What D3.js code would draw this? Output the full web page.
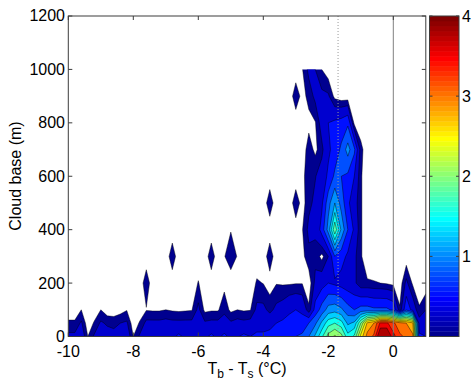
<!DOCTYPE html>
<html><head><meta charset="utf-8">
<script src="https://cdn.jsdelivr.net/npm/d3@7"></script>
<style>body{margin:0;background:#fff} text{font-family:"Liberation Sans",Arial,sans-serif;fill:#000}</style>
</head><body><svg id="c" width="471" height="381"></svg>
<script>
// ---- data ----
const xGrid = [-10,-9.8,-9.6,-9.4,-9.2,-9,-8.8,-8.6,-8.4,-8.2,-8,-7.8,-7.6,-7.4,-7.2,-7,-6.8,-6.6,-6.4,-6.2,
  -6,-5.8,-5.6,-5.4,-5.2,-5,-4.8,-4.6,-4.4,-4.2,-4,-3.8,-3.6,-3.4,-3.2,-3,-2.8,-2.6,-2.4,-2.2,
  -2,-1.8,-1.6,-1.4,-1.2,-1,-0.8,-0.6,-0.4,-0.2,0,0.2,0.4,0.6,0.8,1];
const yGrid = [0,50,100,200,300,400,500,600,700,800,900,1000];
const row0 = [0.3,0.3,0.4,0.1,0.28,0.4,0.35,0.32,0.35,0.4,
  0.1,0.28,0.45,0.45,0.45,0.5,0.45,0.55,0.45,0.48,
  0.5,0.45,0.55,0.45,0.55,0.45,0.48,0.55,0.5,0.55,
  0.55,0.6,0.65,0.7,0.75,0.75,0.8,1.0,1.3,1.7,
  2.1,2.3,2.1,1.6,1.8,2.6,3.1,3.3,4.1,4.1,
  3.6,3.3,3.2,3.05,0.55,0.5];
const row50 = [0.13,0.13,0.28,0,0.12,0.28,0.22,0.2,0.25,0.28,
  0,0.12,0.3,0.3,0.3,0.32,0.3,0.3,0.3,0.3,
  0.4,0.28,0.3,0.3,0.35,0.28,0.32,0.3,0.32,0.4,
  0.4,0.4,0.5,0.55,0.6,0.55,0.6,0.75,0.95,1.3,
  1.65,1.75,1.6,1.2,1.3,2.0,2.8,3.0,3.55,3.55,
  3.3,3.1,3.0,2.8,0.35,0.35];
const row100 = [0,0,0.1,0,0,0.1,0,0,0.03,0.09,
  0,0,0.09,0.08,0.08,0.1,0.08,0.07,0.08,0.09,
  0.3,0.06,0.08,0.08,0.2,0.06,0.1,0.08,0.09,0.3,
  0.3,0.2,0.3,0.35,0.45,0.5,0.45,0.13,0.6,0.85,
  1.1,1.15,1.05,0.85,0.75,0.85,0.85,0.8,0.8,0.8,
  0.7,0.12,0.7,0.4,0.12,0.25];
const row200 = [0,0,0,0,0,0,0,0,0,0,
  0,0,0.2,0,0,0,0,0,0,0,
  0.11,0,0,0,0.05,0,0,0,0,0.12,
  0.095,0.02,0.09,0.08,0.08,0.09,0.09,0,0.3,0.4,
  0.5,0.45,0.4,0.35,0.3,0.12,0.12,0.11,0.1,0.08,
  0.05,0,0.3,0.07,0,0];
const row300 = [0,0,0,0,0,0,0,0,0,0,
  0,0,0,0,0,0,0.2,0,0,0,
  0,0,0.2,0,0.09,0.2,0.09,0,0,0,
  0,0.2,0,0,0,0,0.05,0.2,0.2,0.05,
  0.25,0.75,0.6,0.45,0.3,0.12,0,0,0,0,
  0,0,0,0,0,0];
const row400 = [0,0,0,0,0,0,0,0,0,0,
  0,0,0,0,0,0,0,0,0,0,
  0,0,0,0,0,0.09,0,0,0,0,
  0,0,0,0,0,0.02,0.09,0.3,0.28,0.6,
  1.1,1.95,1.2,0.75,0.45,0.12,0,0,0,0,
  0,0,0,0,0,0];
const row500 = [0,0,0,0,0,0,0,0,0,0,
  0,0,0,0,0,0,0,0,0,0,
  0,0,0,0,0,0,0,0,0,0,
  0,0.2,0,0,0,0.2,0.03,0.2,0.3,0.45,
  0.9,1.25,0.9,0.55,0.35,0.12,0,0,0,0,
  0,0,0,0,0,0];
const row600 = [0,0,0,0,0,0,0,0,0,0,
  0,0,0,0,0,0,0,0,0,0,
  0,0,0,0,0,0,0,0,0,0,
  0,0,0,0,0,0,0.06,0.18,0.24,0.35,
  0.55,0.8,0.75,0.7,0.5,0.12,0,0,0,0,
  0,0,0,0,0,0];
const row700 = [0,0,0,0,0,0,0,0,0,0,
  0,0,0,0,0,0,0,0,0,0,
  0,0,0,0,0,0,0,0,0,0,
  0,0,0,0,0,0,0,0.18,0.06,0.2,
  0.45,0.6,0.8,1.1,0.8,0.15,0,0,0,0,
  0,0,0,0,0,0];
const row800 = [0,0,0,0,0,0,0,0,0,0,
  0,0,0,0,0,0,0,0,0,0,
  0,0,0,0,0,0,0,0,0,0,
  0,0,0,0,0,0,0,0.05,0.09,0.35,
  0.5,0.55,0.6,0.7,0.05,0,0,0,0,0,
  0,0,0,0,0,0];
const row900 = [0,0,0,0,0,0,0,0,0,0,
  0,0,0,0,0,0,0,0,0,0,
  0,0,0,0,0,0,0,0,0,0,
  0,0,0,0,0,0.2,0.04,0.15,0.3,0.3,
  0.28,0.05,0,0,0,0,0,0,0,0,
  0,0,0,0,0,0];
const row1000 = [0,0,0,0,0,0,0,0,0,0,
  0,0,0,0,0,0,0,0,0,0,
  0,0,0,0,0,0,0,0,0,0,
  0,0,0,0,0,0,0.09,0.3,0.25,0.1,
  0,0,0,0,0,0,0,0,0,0,
  0,0,0,0,0,0];
const contourLevels = [0.1,0.25,0.5,0.75,1.0,1.25,1.5,1.75,2.0,2.25,2.5,2.75,3.0,3.25,3.5,3.75];
const xTicks = [-10,-8,-6,-4,-2,0];
const yTicks = [0,200,400,600,800,1000,1200];
const cbTicks = [1,2,3,4];
const refLineX = [-1.7, 0];

// ---- drawing ----
const svg = d3.select("#c");
const x = d3.scaleLinear().domain([-10,1]).range([68.3,425.8]);
const y = d3.scaleLinear().domain([0,1200]).range([336.5,16]);
const cbY = d3.scaleLinear().domain([0,4]).range([336.5,16]);

function jet64(i){
  const r = i<24?0 : i<=39?0.0625*(i-23) : i<=55?1 : 1-0.0625*(i-55);
  const g = i<8?0 : i<=23?0.0625*(i-7) : i<=39?1 : i<=55?1-0.0625*(i-39) : 0;
  const b = i<=7?0.5625+0.0625*i : i<=23?1 : i<=39?1-0.0625*(i-23) : 0;
  return d3.rgb(r*255,g*255,b*255).toString();
}
const levelColor = (l,i) => jet64(i===0 ? 0 : Math.min(63, Math.floor(l/4*64)));

const rows = [row0,row50,row100,row200,row300,row400,row500,row600,row700,row800,row900,row1000];
const n = xGrid.length, m = yGrid.length;
const values = rows.flat();
const polys = d3.contours().size([n,m]).thresholds(contourLevels)(values);

const gx = g => xGrid[0] + (g-0.5)*(xGrid[1]-xGrid[0]);
function gy(g){
  const t = g-0.5;
  if (t <= 0) return yGrid[0] + t*(yGrid[1]-yGrid[0]);
  if (t >= m-1) return yGrid[m-1] + (t-(m-1))*(yGrid[m-1]-yGrid[m-2]);
  const i = Math.floor(t);
  return yGrid[i] + (t-i)*(yGrid[i+1]-yGrid[i]);
}
const proj = d3.geoTransform({point(px,py){ this.stream.point(x(gx(px)), y(gy(py))); }});
const path = d3.geoPath(proj);

svg.append("defs").append("clipPath").attr("id","gclip").append("rect")
  .attr("x", x(xGrid[0])).attr("y", y(yGrid[m-1]))
  .attr("width", x(xGrid[n-1])-x(xGrid[0])).attr("height", y(yGrid[0])-y(yGrid[m-1]));

svg.append("g").attr("clip-path","url(#gclip)")
  .selectAll("path").data(polys).join("path")
  .attr("d", path)
  .attr("fill", (d,i)=>levelColor(d.value,i))
  .attr("fill-rule","evenodd")
  .attr("stroke","#000").attr("stroke-width",0.5).attr("stroke-opacity",0.85);

// reference lines
svg.append("g").selectAll("line").data(refLineX).join("line")
  .attr("x1", d=>x(d)).attr("x2", d=>x(d)).attr("y1", y(1200)).attr("y2", y(0))
  .attr("stroke", (d,i)=> i===0 ? "#9a9a9a" : "#808080")
  .attr("stroke-width", 1)
  .attr("stroke-dasharray", (d,i)=> i===0 ? "1,2" : null);

// axes frame
const ax = svg.append("g").attr("stroke","#3c3c3c").attr("stroke-width",1).attr("fill","none");
ax.append("rect").attr("x",x(-10)).attr("y",y(1200)).attr("width",x(1)-x(-10)).attr("height",y(0)-y(1200));
const tl = 4;
xTicks.forEach(v=>{
  ax.append("line").attr("x1",x(v)).attr("x2",x(v)).attr("y1",y(0)).attr("y2",y(0)-tl);
  ax.append("line").attr("x1",x(v)).attr("x2",x(v)).attr("y1",y(1200)).attr("y2",y(1200)+tl);
});
yTicks.forEach(v=>{
  ax.append("line").attr("x1",x(-10)).attr("x2",x(-10)+tl).attr("y1",y(v)).attr("y2",y(v));
  ax.append("line").attr("x1",x(1)).attr("x2",x(1)-tl).attr("y1",y(v)).attr("y2",y(v));
});
svg.append("g").selectAll("text").data(xTicks).join("text")
  .attr("x", d=>x(d)).attr("y", 356.5).attr("text-anchor","middle").attr("font-size",16)
  .text(d=>d);
svg.append("g").selectAll("text").data(yTicks).join("text")
  .attr("x", 65).attr("y", d=>y(d)).attr("dy","0.34em").attr("text-anchor","end").attr("font-size",16)
  .text(d=>d);

// axis labels
const xl = svg.append("text").attr("x",247).attr("y",374).attr("text-anchor","middle").attr("font-size",16);
xl.append("tspan").text("T");
xl.append("tspan").attr("font-size",12).attr("dy",4).text("b");
xl.append("tspan").attr("dy",-4).text(" - T");
xl.append("tspan").attr("font-size",12).attr("dy",4).text("s");
xl.append("tspan").attr("dy",-4).text(" (°C)");
svg.append("text").attr("transform","translate(21,176) rotate(-90)").attr("text-anchor","middle")
  .attr("font-size",16).text("Cloud base (m)");

// colorbar
const cbx0 = 429.5, cbx1 = 459;
svg.append("g").selectAll("rect").data(d3.range(64)).join("rect")
  .attr("x", cbx0).attr("width", cbx1-cbx0)
  .attr("y", i=>cbY((i+1)/16)).attr("height", i=>cbY(i/16)-cbY((i+1)/16)+0.3)
  .attr("fill", i=>jet64(i));
const cb = svg.append("g").attr("stroke","#3c3c3c").attr("stroke-width",1).attr("fill","none");
cb.append("rect").attr("x",cbx0).attr("y",cbY(4)).attr("width",cbx1-cbx0).attr("height",cbY(0)-cbY(4));
cbTicks.forEach(v=>{
  cb.append("line").attr("x1",cbx0).attr("x2",cbx0+3).attr("y1",cbY(v)).attr("y2",cbY(v));
  cb.append("line").attr("x1",cbx1).attr("x2",cbx1-3).attr("y1",cbY(v)).attr("y2",cbY(v));
});
svg.append("g").selectAll("text").data(cbTicks).join("text")
  .attr("x", 462).attr("y", d=>cbY(d)).attr("dy","0.36em").attr("font-size",16)
  .text(d=>d);
</script></body></html>
